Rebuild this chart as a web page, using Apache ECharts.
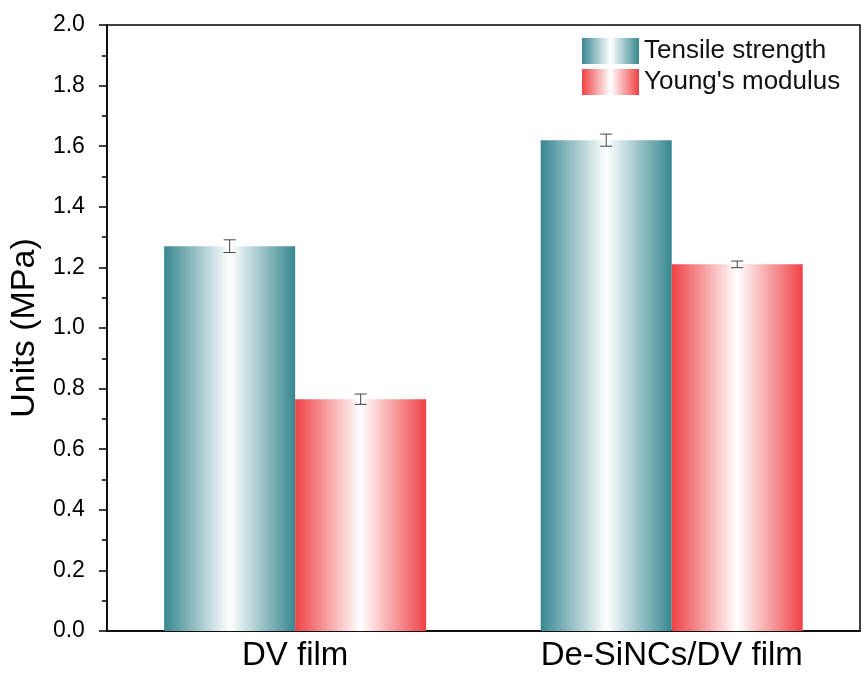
<!DOCTYPE html>
<html>
<head>
<meta charset="utf-8">
<script src="https://cdn.jsdelivr.net/npm/echarts@6/dist/echarts.min.js"></script>
<style>
  html, body { margin: 0; padding: 0; background: #fff; }
  #chart { width: 865px; height: 686px; }
</style>
</head>
<body>
<div id="chart"></div>
<script>
  // data
  var categories = ['DV film', 'De-SiNCs/DV film'];
  var tensile = [1.27, 1.62];
  var tensileErr = [0.021, 0.020];
  var young = [0.765, 1.21];
  var youngErr = [0.017, 0.011];

  var BAR_W = 131;
  var FONT = '"Liberation Sans", Arial, sans-serif';

  function grad(c) {
    return new echarts.graphic.LinearGradient(0, 0, 1, 0, [
      { offset: 0, color: c },
      { offset: 0.5, color: '#ffffff' },
      { offset: 1, color: c }
    ]);
  }

  // error bars drawn through the category/value axes
  function errorSeries(values, errs, shift) {
    var data = values.map(function (v, i) { return [i, v, errs[i]]; });
    return {
      type: 'custom',
      silent: true,
      z: 10,
      data: data,
      renderItem: function (params, api) {
        var i = api.value(0), v = api.value(1), e = api.value(2);
        var hi = api.coord([i, v + e]);
        var lo = api.coord([i, v - e]);
        var x = hi[0] + shift;
        var cap = 6;
        var st = { stroke: '#444', lineWidth: 1 };
        return {
          type: 'group',
          children: [
            { type: 'line', shape: { x1: x, y1: hi[1], x2: x, y2: lo[1] }, style: st },
            { type: 'line', shape: { x1: x - cap, y1: hi[1], x2: x + cap, y2: hi[1] }, style: st },
            { type: 'line', shape: { x1: x - cap, y1: lo[1], x2: x + cap, y2: lo[1] }, style: st }
          ]
        };
      }
    };
  }

  var chart = echarts.init(document.getElementById('chart'));
  chart.setOption({
    backgroundColor: '#fff',
    animation: false,
    textStyle: { fontFamily: FONT },
    grid: {
      left: 104, right: 5, top: 25, bottom: 55,
      show: true, borderColor: '#000', borderWidth: 1.5
    },
    legend: {
      left: 577, top: 33,
      orient: 'vertical',
      icon: 'rect',
      itemWidth: 57, itemHeight: 26, itemGap: 5,
      textStyle: { fontSize: 26, lineHeight: 26, color: '#111', fontFamily: FONT },
      data: ['Tensile strength', "Young's modulus"]
    },
    xAxis: {
      type: 'category',
      data: categories,
      axisLine: { lineStyle: { color: '#000', width: 1.5 } },
      axisTick: { show: false },
      axisLabel: { fontSize: 33, color: '#000', margin: 8, fontFamily: FONT }
    },
    yAxis: {
      type: 'value',
      min: 0, max: 2.0, interval: 0.2,
      name: 'Units (MPa)',
      nameLocation: 'middle',
      nameGap: 61,
      nameTextStyle: { fontSize: 34, color: '#000', fontFamily: FONT },
      axisLine: { show: true, lineStyle: { color: '#000', width: 1.5 } },
      axisTick: { show: true, length: 8, lineStyle: { color: '#000', width: 1.5 } },
      minorTick: { show: true, splitNumber: 2, length: 5, lineStyle: { color: '#000', width: 1.5 } },
      splitLine: { show: false },
      axisLabel: {
        fontSize: 23, color: '#000', margin: 22, fontFamily: FONT,
        formatter: function (v) { return v.toFixed(1); }
      }
    },
    series: [
      {
        name: 'Tensile strength',
        type: 'bar',
        barWidth: BAR_W,
        barGap: '0%',
        data: tensile,
        itemStyle: { color: grad('#388791') }
      },
      {
        name: "Young's modulus",
        type: 'bar',
        barWidth: BAR_W,
        barGap: '0%',
        data: young,
        itemStyle: { color: grad('#ef4146') }
      },
      errorSeries(tensile, tensileErr, -BAR_W / 2),
      errorSeries(young, youngErr, BAR_W / 2)
    ]
  });
</script>
</body>
</html>
